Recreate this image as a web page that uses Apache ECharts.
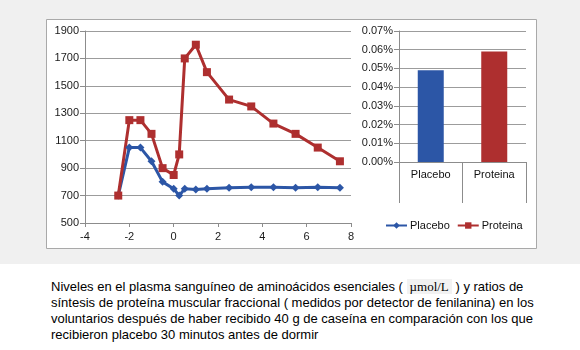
<!DOCTYPE html>
<html>
<head>
<meta charset="utf-8">
<script src="https://cdn.jsdelivr.net/npm/echarts@6/dist/echarts.min.js"></script>
<style>
  html, body { margin: 0; padding: 0; background: #ffffff; }
  #wrap { position: relative; width: 580px; height: 350px; overflow: hidden; }
  #top { position: absolute; left: 0; top: 0; width: 580px; height: 264px; background: #f0f0f0; }
  #chart { position: absolute; left: 0; top: 0; width: 580px; height: 264px; }
  #caption {
    position: absolute; left: 51px; top: 279px; width: 520px;
    font-family: "Liberation Sans", Arial, sans-serif; font-size: 13px; line-height: 16px;
    color: #000; white-space: nowrap;
  }
  #caption .unit {
    font-family: "Liberation Serif", "Times New Roman", serif; font-size: 13px;
    background: #f2f2f2; padding: 0 3px;
  }
</style>
</head>
<body>
<div id="wrap">
  <div id="top"></div>
  <div id="chart"></div>
  <div id="caption">Niveles en el plasma sanguíneo de aminoácidos esenciales ( <span class="unit">µmol/L</span> ) y ratios de<br>síntesis de proteína muscular fraccional ( medidos por detector de fenilanina) en los<br>voluntarios después de haber recibido 40 g de caseína en comparación con los que<br>recibieron placebo 30 minutos antes de dormir</div>
</div>
<script>
// Hours relative to the protein / placebo dose
const hours = [-2.5, -2, -1.5, -1, -0.5, 0, 0.25, 0.5, 1, 1.5, 2.5, 3.5, 4.5, 5.5, 6.5, 7.5];
// Plasma essential amino acids (µmol/L)
const placeboEAA = [700, 1050, 1050, 950, 800, 750, 700, 750, 745, 750, 757, 760, 760, 757, 760, 757];
const proteinaEAA = [700, 1250, 1250, 1150, 900, 850, 1000, 1700, 1800, 1600, 1400, 1350, 1225, 1150, 1050, 950];
// Fractional muscle protein synthesis rate (%/h)
const groups = ['Placebo', 'Proteina'];
const fsrValues = [0.049, 0.059];

const BLUE = '#2c56a6';
const RED = '#ae2f2f';
const GRID = '#9c9c9c';
const AXIS = '#8c8c8c';
const LABEL = { color: '#1a1a1a', fontSize: 11, fontFamily: 'Liberation Sans, Arial, sans-serif' };
const NARROW = { color: '#111', fontSize: 11, fontFamily: 'Liberation Sans Narrow, Liberation Sans, Arial, sans-serif' };

const pair = (xs, ys) => xs.map((x, i) => [x, ys[i]]);

const chart = echarts.init(document.getElementById('chart'), null, { renderer: 'canvas' });
chart.setOption({
  animation: false,
  backgroundColor: 'transparent',
  graphic: [{
    type: 'rect', z: -10, silent: true,
    shape: { x: 46.5, y: 19.5, width: 490, height: 229 },
    style: { fill: '#ffffff', stroke: '#a9a9a9', lineWidth: 1 }
  }],
  grid: [
    { left: 85, top: 31, width: 266, height: 192 },
    { left: 399, top: 31, width: 127, height: 131 }
  ],
  xAxis: [{
    gridIndex: 0, type: 'value', min: -4, max: 8, interval: 2,
    axisLine: { show: true, onZero: false, lineStyle: { color: AXIS } },
    axisTick: { show: true, length: 4, lineStyle: { color: AXIS } },
    axisLabel: Object.assign({ margin: 8 }, LABEL),
    splitLine: { show: false }
  }, {
    gridIndex: 1, type: 'category', data: groups,
    axisLine: { show: true, onZero: false, lineStyle: { color: AXIS } },
    axisTick: { show: true, length: 41, alignWithLabel: false, lineStyle: { color: AXIS } },
    axisLabel: Object.assign({ margin: 7 }, NARROW),
    splitLine: { show: false }
  }],
  yAxis: [{
    gridIndex: 0, type: 'value', min: 500, max: 1900, interval: 200,
    axisLine: { show: true, onZero: false, lineStyle: { color: AXIS } },
    axisTick: { show: true, length: 5, lineStyle: { color: AXIS } },
    axisLabel: Object.assign({ margin: 6, formatter: v => String(v) }, LABEL),
    splitLine: { show: true, lineStyle: { color: GRID, width: 1 } }
  }, {
    gridIndex: 1, type: 'value', min: 0, max: 0.07, interval: 0.01,
    axisLine: { show: true, onZero: false, lineStyle: { color: AXIS } },
    axisTick: { show: true, length: 5, lineStyle: { color: AXIS } },
    axisLabel: Object.assign({ margin: 6, formatter: v => v.toFixed(2) + '%' }, LABEL),
    splitLine: { show: true, lineStyle: { color: GRID, width: 1 } }
  }],
  legend: {
    left: 385, top: 220, itemWidth: 21, itemHeight: 8, itemGap: 7, padding: 0,
    textStyle: Object.assign({ padding: [0, 0, 0, -2] }, NARROW),
    data: [{ name: 'Placebo' }, { name: 'Proteina' }]
  },
  series: [{
    name: 'Placebo', type: 'line', xAxisIndex: 0, yAxisIndex: 0,
    data: pair(hours, placeboEAA),
    symbol: 'diamond', symbolSize: 8, color: BLUE,
    lineStyle: { width: 3, color: BLUE }, itemStyle: { color: BLUE }
  }, {
    name: 'Proteina', type: 'line', xAxisIndex: 0, yAxisIndex: 0,
    data: pair(hours, proteinaEAA),
    symbol: 'rect', symbolSize: 8, color: RED,
    lineStyle: { width: 3, color: RED }, itemStyle: { color: RED }
  }, {
    name: 'FSR', type: 'bar', xAxisIndex: 1, yAxisIndex: 1,
    barWidth: 26,
    data: fsrValues.map((v, i) => ({ value: v, itemStyle: { color: i === 0 ? BLUE : RED } }))
  }]
});
</script>
</body>
</html>
